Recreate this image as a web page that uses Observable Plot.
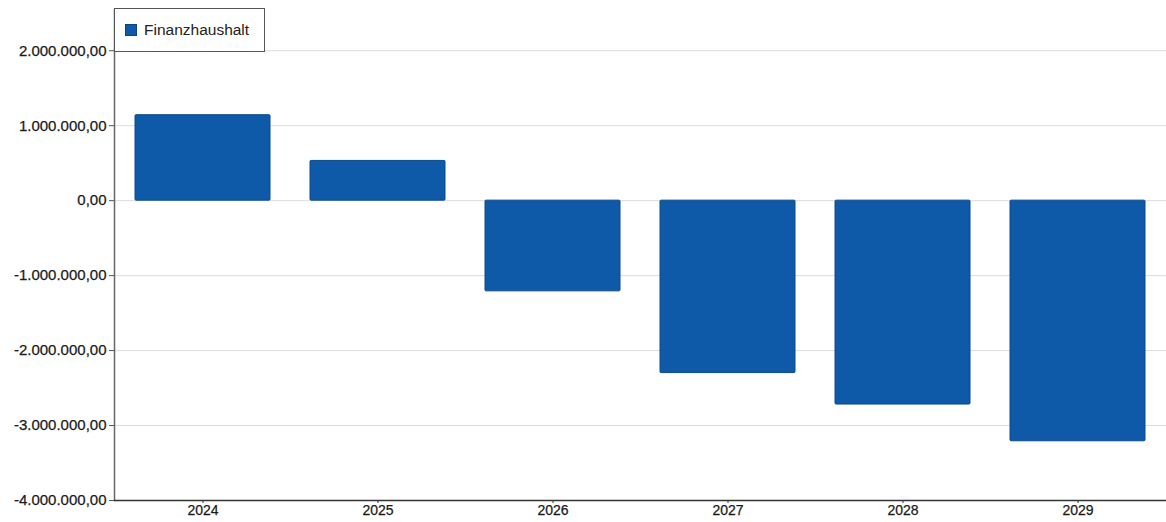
<!DOCTYPE html>
<html><head><meta charset="utf-8">
<script src="https://cdn.jsdelivr.net/npm/d3@7"></script>
<script src="https://cdn.jsdelivr.net/npm/@observablehq/plot@0.6"></script>
<style>
body{margin:0;background:#fff;font-family:"Liberation Sans",Arial,sans-serif}
#wrap{position:relative;width:1166px;height:522px}
#legend{position:absolute;left:114px;top:8px;width:151px;height:44px;box-sizing:border-box;border:1.5px solid #555;background:#fff;display:flex;align-items:center;padding-left:10px;font-size:15.5px;color:#222}
#legend .sw{display:inline-block;width:10px;height:10px;background:#0f5aa8;margin-right:7px;border:1px solid #0a467f}
#chart svg text{stroke:#1a1a1a;stroke-width:0.25px}
</style></head><body>
<div id="wrap"><div id="chart"></div><div id="legend"><span class="sw"></span><span id="lt"></span></div></div>
<script>
const years = ["2024", "2025", "2026", "2027", "2028", "2029"];
const values = [1140000, 530000, -1210000, -2300000, -2720000, -3210000];
const seriesName = "Finanzhaushalt";
const yTicks = [-4000000, -3000000, -2000000, -1000000, 0, 1000000, 2000000];

const de = d3.formatLocale({decimal: ",", thousands: ".", grouping: [3], currency: ["", " €"], minus: "-"});
const fmt = de.format(",.2f");
const data = years.map((y, i) => ({year: y, value: values[i]}));

document.getElementById("lt").textContent = seriesName;

const chart = Plot.plot({
  width: 1166, height: 522,
  marginLeft: 114, marginRight: 0, marginTop: 9, marginBottom: 22,
  style: {fontFamily: "'Liberation Sans', Arial, sans-serif", fontSize: "15px", color: "#1a1a1a", background: "#fff"},
  x: {domain: years, paddingInner: 0.23, paddingOuter: 0.115, label: null},
  y: {domain: [-4000000, 2550000], label: null},
  marks: [
    Plot.gridY(yTicks, {stroke: "#dcdcdc", strokeOpacity: 1}),
    Plot.barY(data, {x: "year", y: "value", fill: "#0f5aa8", stroke: "#0a4a8c", strokeWidth: 1, rx: 1}),
    Plot.frame({anchor: "left", stroke: "#666", strokeWidth: 1.5}),
    Plot.ruleY([-4000000], {stroke: "#333", strokeWidth: 1.5}),
    Plot.axisY(yTicks, {tickFormat: fmt, tickSize: 5, tickPadding: 3, stroke: "#555", fontSize: 15, label: null}),
    Plot.axisX({tickSize: 3, tickPadding: 2, stroke: "#333", fontSize: 14, label: null})
  ]
});
document.getElementById("chart").appendChild(chart);
</script>
</body></html>
